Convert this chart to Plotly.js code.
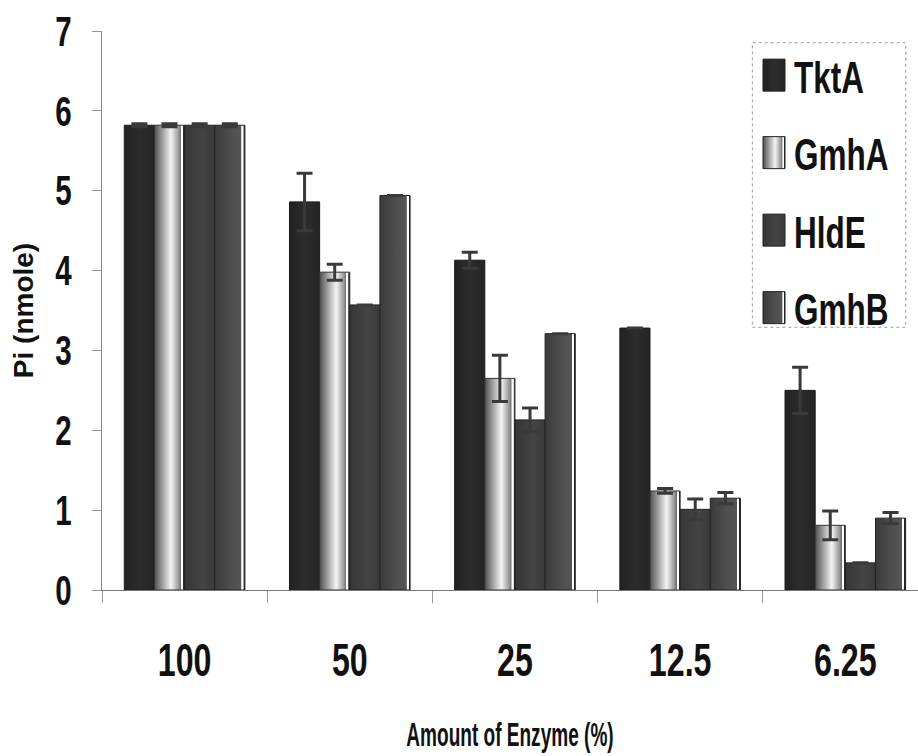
<!DOCTYPE html>
<html>
<head>
<meta charset="utf-8">
<script src="https://cdn.plot.ly/plotly-3.0.1.min.js"></script>
<style>
html,body{margin:0;padding:0;background:#fff;}
#chart{width:918px;height:756px;}
#chart .legend, #chart .legend * { clip-path: none !important; }
</style>
</head>
<body>
<div id="chart"></div>
<script>
const categories = ["100", "50", "25", "12.5", "6.25"];
const seriesNames = ["TktA", "GmhA", "HldE", "GmhB"];
const tktA = [5.82, 4.86, 4.13, 3.28, 2.50];
const gmhA = [5.82, 3.98, 2.65, 1.24, 0.81];
const hldE = [5.82, 3.57, 2.13, 1.01, 0.34];
const gmhB = [5.82, 4.94, 3.21, 1.15, 0.90];
const tktAErr = [0.02, 0.36, 0.10, 0.00, 0.29];
const gmhAErr = [0.02, 0.10, 0.29, 0.03, 0.18];
const hldEErr = [0.02, 0.00, 0.15, 0.13, 0.00];
const gmhBErr = [0.02, 0.00, 0.00, 0.07, 0.07];
const yTicks = [0, 1, 2, 3, 4, 5, 6, 7];

const values = [tktA, gmhA, hldE, gmhB];
const errs = [tktAErr, gmhAErr, hldEErr, gmhBErr];
const colors = ["#242424", "#a9a9a9", "#3c3c3c", "#4b4b4b"];
const lineColors = ["#1a1a1a", "#333333", "#222222", "#222222"];
const gradients = [
  [[0, "#222"], [0.5, "#2c2c2c"], [1, "#252525"]],
  [[0, "#505050"], [0.2, "#8c8c8c"], [0.55, "#f4f4f4"], [0.8, "#9a9a9a"], [0.88, "#707070"], [0.89, "#ffffff"], [0.95, "#ffffff"], [0.96, "#2a2a2a"], [1, "#2a2a2a"]],
  [[0, "#363636"], [0.6, "#444444"], [1, "#3a3a3a"]],
  [[0, "#3a3a3a"], [0.55, "#4f4f4f"], [0.88, "#555555"], [0.89, "#ffffff"], [0.95, "#ffffff"], [0.96, "#222"], [1, "#222"]]
];

const font = "Liberation Sans, Arial, sans-serif";

const traces = seriesNames.map((name, i) => ({
  type: "bar",
  name: name,
  x: categories,
  y: values[i],
  legendgroup: name,
  marker: { color: colors[i], line: { color: lineColors[i], width: 1 } },
  error_y: { type: "data", array: errs[i], visible: true, color: "#3a3a3a", thickness: 3, width: 8 }
}));

const layout = {
  width: 918,
  height: 756,
  margin: { l: 102, r: 0, t: 31, b: 166 },
  paper_bgcolor: "#ffffff",
  plot_bgcolor: "#ffffff",
  barmode: "group",
  bargap: 0.27,
  bargroupgap: 0,
  showlegend: true,
  legend: {
    x: 1.0, y: 0.985, xanchor: "right", yanchor: "top",
    borderwidth: 0, bgcolor: "rgba(0,0,0,0)",
    font: { family: font, size: 45, color: "#111", weight: "bold" },
    traceorder: "grouped", tracegroupgap: 16, itemwidth: 30
  },
  shapes: [{
    type: "rect", xref: "paper", yref: "paper",
    x0: 0.797, x1: 0.985, y0: 0.470, y1: 0.979,
    line: { color: "#9a9a9a", width: 1, dash: "dot" }, fillcolor: "rgba(0,0,0,0)", layer: "below"
  }],
  xaxis: {
    type: "category",
    range: [-0.5, 4.44],
    showline: true, linecolor: "#777", linewidth: 1,
    ticks: "outside", tickson: "boundaries", ticklen: 12, tickcolor: "#999", tickwidth: 1,
    ticklabelstandoff: 30,
    tickfont: { family: font, size: 46, color: "#111", weight: "bold" },
    showgrid: false, zeroline: false,
    title: { text: "Amount of Enzyme (%)", font: { family: font, size: 34, color: "#111", weight: "bold" }, standoff: 36 }
  },
  yaxis: {
    range: [0, 7],
    tickvals: yTicks,
    ticktext: yTicks.map(String),
    showline: true, linecolor: "#888", linewidth: 1,
    ticks: "outside", ticklen: 9, tickcolor: "#999", tickwidth: 1,
    ticklabelstandoff: 12,
    tickfont: { family: font, size: 42, color: "#111", weight: "bold" },
    showgrid: false, zeroline: false,
    title: { text: "Pi (nmole)", font: { family: font, size: 28, color: "#111", weight: "bold" }, standoff: 15 }
  }
};

function squeeze(sel, f) {
  document.querySelectorAll(sel).forEach(t => {
    const w = t.getComputedTextLength();
    if (w > 0) {
      t.setAttribute("textLength", (w * f).toFixed(1));
      t.setAttribute("lengthAdjust", "spacingAndGlyphs");
    }
  });
}

function scaleText(sel, f) {
  document.querySelectorAll(sel).forEach(t => {
    const x = parseFloat(t.getAttribute("x") || "0");
    const prev = t.getAttribute("transform") || "";
    t.setAttribute("transform", prev + " translate(" + (x * (1 - f)).toFixed(2) + ",0) scale(" + f + ",1)");
  });
}

function addGradients() {
  const svg = document.querySelector("#chart .main-svg");
  const ns = "http://www.w3.org/2000/svg";
  let defs = svg.querySelector("defs");
  if (!defs) { defs = document.createElementNS(ns, "defs"); svg.insertBefore(defs, svg.firstChild); }
  gradients.forEach((stops, i) => {
    const g = document.createElementNS(ns, "linearGradient");
    g.setAttribute("id", "barGrad" + i);
    g.setAttribute("x1", "0"); g.setAttribute("y1", "0");
    g.setAttribute("x2", "1"); g.setAttribute("y2", "0");
    stops.forEach(([o, c]) => {
      const s = document.createElementNS(ns, "stop");
      s.setAttribute("offset", o);
      s.setAttribute("stop-color", c);
      g.appendChild(s);
    });
    defs.appendChild(g);
  });
  document.querySelectorAll("#chart .barlayer .trace").forEach((tr, i) => {
    tr.querySelectorAll(".point path").forEach(p => { p.style.fill = "url(#barGrad" + i + ")"; });
  });
  document.querySelectorAll("#chart .legend .traces").forEach((tr, i) => {
    tr.querySelectorAll(".legendpoints path").forEach(p => {
      p.setAttribute("d", "M11,16H-11V-16H11Z");
      p.style.fill = "url(#barGrad" + i + ")";
      p.style.stroke = "#222";
    });
  });
}

function shiftGroup(el, dx, dy) {
  const tr = el.getAttribute("transform") || "";
  const m = tr.match(/translate\(\s*([-\d.e]+)[ ,]+([-\d.e]+)\s*\)/);
  if (m) {
    el.setAttribute("transform", tr.replace(m[0], "translate(" + (parseFloat(m[1]) + dx) + "," + (parseFloat(m[2]) + dy) + ")"));
  } else {
    el.setAttribute("transform", "translate(" + dx + "," + dy + ") " + tr);
  }
}

function shiftLegend(targetSymbolCenterX) {
  const leg = document.querySelector("#chart .legend");
  const sym = leg && leg.querySelector(".legendpoints path");
  if (!sym) return;
  leg.removeAttribute("clip-path");
  leg.querySelectorAll("[clip-path]").forEach(e => e.removeAttribute("clip-path"));
  const r = sym.getBoundingClientRect();
  const host = document.querySelector("#chart").getBoundingClientRect();
  const dx = targetSymbolCenterX - (r.left - host.left + r.width / 2);
  shiftGroup(leg, dx, 0);
}

Plotly.newPlot("chart", traces, layout, { displayModeBar: false, staticPlot: true }).then(() => {
  squeeze("#chart .xtick text", 0.70);
  squeeze("#chart .ytick text", 0.70);
  squeeze("#chart .g-xtitle text", 0.56);
  scaleText("#chart .legendtext", 0.70);
  addGradients();
  shiftLegend(774);
  const yt = document.querySelector("#chart .g-ytitle");
  if (yt) shiftGroup(yt, 8, 0);
});
</script>
</body>
</html>
